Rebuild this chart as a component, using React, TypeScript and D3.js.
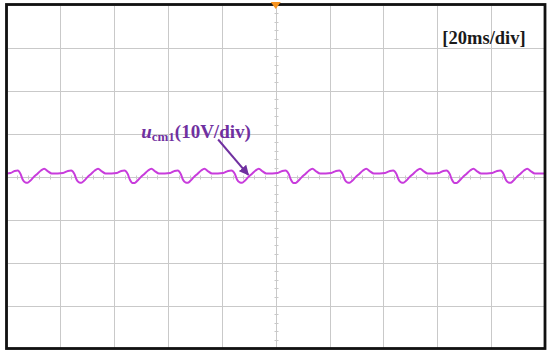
import { useEffect, useRef } from 'react';
import * as d3 from 'd3';

// time axis: 10 div x 20 ms, voltage axis: 8 div x 10 V
const timeDomain = [0, 200];
const voltDomain = [-40, 40];

const timeBaseLabel = '[20ms/div]';
const traceName = 'u';
const traceSub = 'cm1';
const traceScale = '(10V/div)';

// u_cm1 trace, [ms, V]
const ucm1Trace: [number, number][] = [
  [0, 0.7], [1.5, 0.8], [3, 1.3], [4.2, 1.4], [5.2, 0.6], [6.0, -0.7],
  [7, -1.4], [7.8, -1.45], [8.8, -1.0], [10, -0.2], [11.4, 0.6], [12.8, 1.4], [14, 1.8], [15.4, 1.2], [16.8, 0.7], [19, 0.7], [21, 0.8], [22.8, 1.3], [24, 1.4], [25.2, 0.6], [26, -0.7],
  [27, -1.4], [27.8, -1.45], [28.8, -1.0], [30, -0.2], [31.4, 0.6], [32.8, 1.4], [34, 1.8], [35.4, 1.2], [36.8, 0.7], [39, 0.7], [41, 0.8], [42.6, 1.3], [43.8, 1.4], [45, 0.6], [45.8, -0.7],
  [46.8, -1.5], [47.6, -1.5], [48.6, -1.0], [49.8, -0.2], [51.2, 0.6], [52.6, 1.4], [53.8, 1.8], [55.2, 1.2], [56.6, 0.7], [58.8, 0.7], [60.8, 0.8], [62.4, 1.3], [63.6, 1.4], [64.7, 0.6], [65.5, -0.7],
  [66.5, -1.4], [67.3, -1.45], [68.3, -1.0], [69.5, -0.2], [70.9, 0.6], [72.3, 1.4], [73.5, 1.8], [74.9, 1.2], [76.3, 0.7], [78.5, 0.7], [80.5, 0.8], [82.3, 1.3], [83.5, 1.4], [84.8, 0.6], [85.6, -0.7],
  [86.7, -1.4], [87.5, -1.45], [88.5, -1.0], [89.7, -0.2], [91.1, 0.6], [92.5, 1.4], [93.7, 1.8], [95.1, 1.2], [96.5, 0.7], [98.7, 0.7], [100.7, 0.8], [102.4, 1.3], [103.6, 1.4], [104.8, 0.6], [105.6, -0.7],
  [106.6, -1.5], [107.4, -1.5], [108.4, -1.0], [109.6, -0.2], [111, 0.6], [112.4, 1.4], [113.6, 1.8], [115, 1.2], [116.4, 0.7], [118.6, 0.7], [120.6, 0.8], [122.4, 1.3], [123.6, 1.4], [124.8, 0.6], [125.6, -0.7],
  [126.6, -1.4], [127.4, -1.45], [128.4, -1.0], [129.6, -0.2], [131, 0.6], [132.4, 1.4], [133.6, 1.8], [135, 1.2], [136.4, 0.7], [138.6, 0.7], [140.6, 0.8], [142.4, 1.3], [143.6, 1.4], [144.8, 0.6], [145.6, -0.7],
  [146.6, -1.4], [147.4, -1.45], [148.4, -1.0], [149.6, -0.2], [151, 0.6], [152.4, 1.4], [153.6, 1.8], [155, 1.2], [156.4, 0.7], [158.6, 0.7], [160.6, 0.8], [162.2, 1.3], [163.4, 1.4], [164.6, 0.6], [165.4, -0.7],
  [166.4, -1.5], [167.2, -1.5], [168.2, -1.0], [169.4, -0.2], [170.8, 0.6], [172.2, 1.4], [173.4, 1.8], [174.8, 1.2], [176.2, 0.7], [178.4, 0.7], [180.4, 0.8], [182.2, 1.3], [183.4, 1.4], [184.6, 0.6], [185.4, -0.7],
  [186.4, -1.4], [187.2, -1.45], [188.2, -1.0], [189.4, -0.2], [190.8, 0.6], [192.2, 1.4], [193.4, 1.8], [194.8, 1.2], [196.2, 0.7], [198, 0.7], [200, 0.7],
];

// annotation anchors in data units [ms, V]
const labelAt: [number, number] = [50.0, 9.0];
const arrowFrom: [number, number] = [78.6, 8.6];
const arrowTo: [number, number] = [89.8, 0.4];
const timeLabelAt: [number, number] = [192.8, 30.8];
const triggerTime = 100;

const App = () => {
  const svgRef = useRef<SVGSVGElement>(null);
  const width = 550;
  const height = 355;

  useEffect(() => {
    const svg = d3.select(svgRef.current);
    svg.selectAll('*').remove();

    const margin = { top: 4.5, right: 5, bottom: 6.5, left: 6.5 };

    const x = d3.scaleLinear().domain(timeDomain).range([margin.left, width - margin.right]);
    const y = d3.scaleLinear().domain(voltDomain).range([height - margin.bottom, margin.top]);

    svg.append('rect').attr('width', width).attr('height', height).attr('fill', '#fff');

    // Grid
    const grid = svg.append('g').attr('stroke', '#c9c9c9').attr('stroke-width', 1);
    grid.selectAll('.vx')
      .data(x.ticks(10))
      .enter()
      .append('line')
      .attr('x1', d => Math.round(x(d)) + 0.5)
      .attr('x2', d => Math.round(x(d)) + 0.5)
      .attr('y1', y(voltDomain[0]))
      .attr('y2', y(voltDomain[1]));
    grid.selectAll('.hy')
      .data(y.ticks(8))
      .enter()
      .append('line')
      .attr('y1', d => Math.round(y(d)) + 0.5)
      .attr('y2', d => Math.round(y(d)) + 0.5)
      .attr('x1', x(timeDomain[0]))
      .attr('x2', x(timeDomain[1]));

    // minor ticks on centre axes
    const minorX = d3.range(timeDomain[0], timeDomain[1] + 0.1, 4);
    const minorY = d3.range(voltDomain[0], voltDomain[1] + 0.1, 2);
    const cy = Math.round(y(0)) + 0.5;
    const cx = Math.round(x(triggerTime)) + 0.5;
    grid.selectAll('.mx')
      .data(minorX)
      .enter()
      .append('line')
      .attr('x1', d => Math.round(x(d)) + 0.5)
      .attr('x2', d => Math.round(x(d)) + 0.5)
      .attr('y1', cy - 2)
      .attr('y2', cy + 2);
    grid.selectAll('.my')
      .data(minorY)
      .enter()
      .append('line')
      .attr('y1', d => Math.round(y(d)) + 0.5)
      .attr('y2', d => Math.round(y(d)) + 0.5)
      .attr('x1', cx - 2)
      .attr('x2', cx + 2);

    // Trace
    const line = d3
      .line<[number, number]>()
      .x(d => x(d[0]))
      .y(d => y(d[1]))
      .curve(d3.curveMonotoneX);

    svg
      .append('path')
      .datum(ucm1Trace)
      .attr('fill', 'none')
      .attr('stroke', '#c83cdc')
      .attr('stroke-width', 2)
      .attr('stroke-linejoin', 'round')
      .attr('d', line);

    // Frame
    svg
      .append('rect')
      .attr('x', x(timeDomain[0]))
      .attr('y', y(voltDomain[1]))
      .attr('width', x(timeDomain[1]) - x(timeDomain[0]))
      .attr('height', y(voltDomain[0]) - y(voltDomain[1]))
      .attr('fill', 'none')
      .attr('stroke', '#111')
      .attr('stroke-width', 2.8);

    // Trigger marker
    const tx = x(triggerTime);
    svg
      .append('path')
      .attr('d', `M${tx - 5},2 L${tx + 5},2 L${tx},9 Z`)
      .attr('fill', '#f7931e');

    // Time base label
    svg
      .append('text')
      .attr('x', x(timeLabelAt[0]))
      .attr('y', y(timeLabelAt[1]))
      .attr('text-anchor', 'end')
      .style('font-family', '"Liberation Serif", "Times New Roman", serif')
      .style('font-weight', 'bold')
      .style('font-size', '18.5px')
      .style('fill', '#1a1a1a')
      .text(timeBaseLabel);

    // Trace label
    const purple = '#7030a0';
    const label = svg
      .append('text')
      .attr('x', x(labelAt[0]))
      .attr('y', y(labelAt[1]))
      .style('font-family', '"Liberation Serif", "Times New Roman", serif')
      .style('font-weight', 'bold')
      .style('font-size', '19px')
      .style('fill', purple);
    label.append('tspan').style('font-style', 'italic').text(traceName);
    label.append('tspan').attr('dy', 3).style('font-size', '13px').text(traceSub);
    label.append('tspan').attr('dy', -3).text(traceScale);

    // Arrow
    const defs = svg.append('defs');
    defs
      .append('marker')
      .attr('id', 'arrowhead')
      .attr('viewBox', '0 0 10 10')
      .attr('refX', 9)
      .attr('refY', 5)
      .attr('markerWidth', 5)
      .attr('markerHeight', 5)
      .attr('orient', 'auto')
      .append('path')
      .attr('d', 'M0,0 L10,5 L0,10 Z')
      .attr('fill', purple);

    svg
      .append('line')
      .attr('x1', x(arrowFrom[0]))
      .attr('y1', y(arrowFrom[1]))
      .attr('x2', x(arrowTo[0]))
      .attr('y2', y(arrowTo[1]))
      .attr('stroke', purple)
      .attr('stroke-width', 2)
      .attr('marker-end', 'url(#arrowhead)');
  }, []);

  return (
    <div style={{ position: 'absolute', left: 0, top: 0 }}>
      <svg ref={svgRef} width={width} height={height}></svg>
    </div>
  );
};

export default App;
